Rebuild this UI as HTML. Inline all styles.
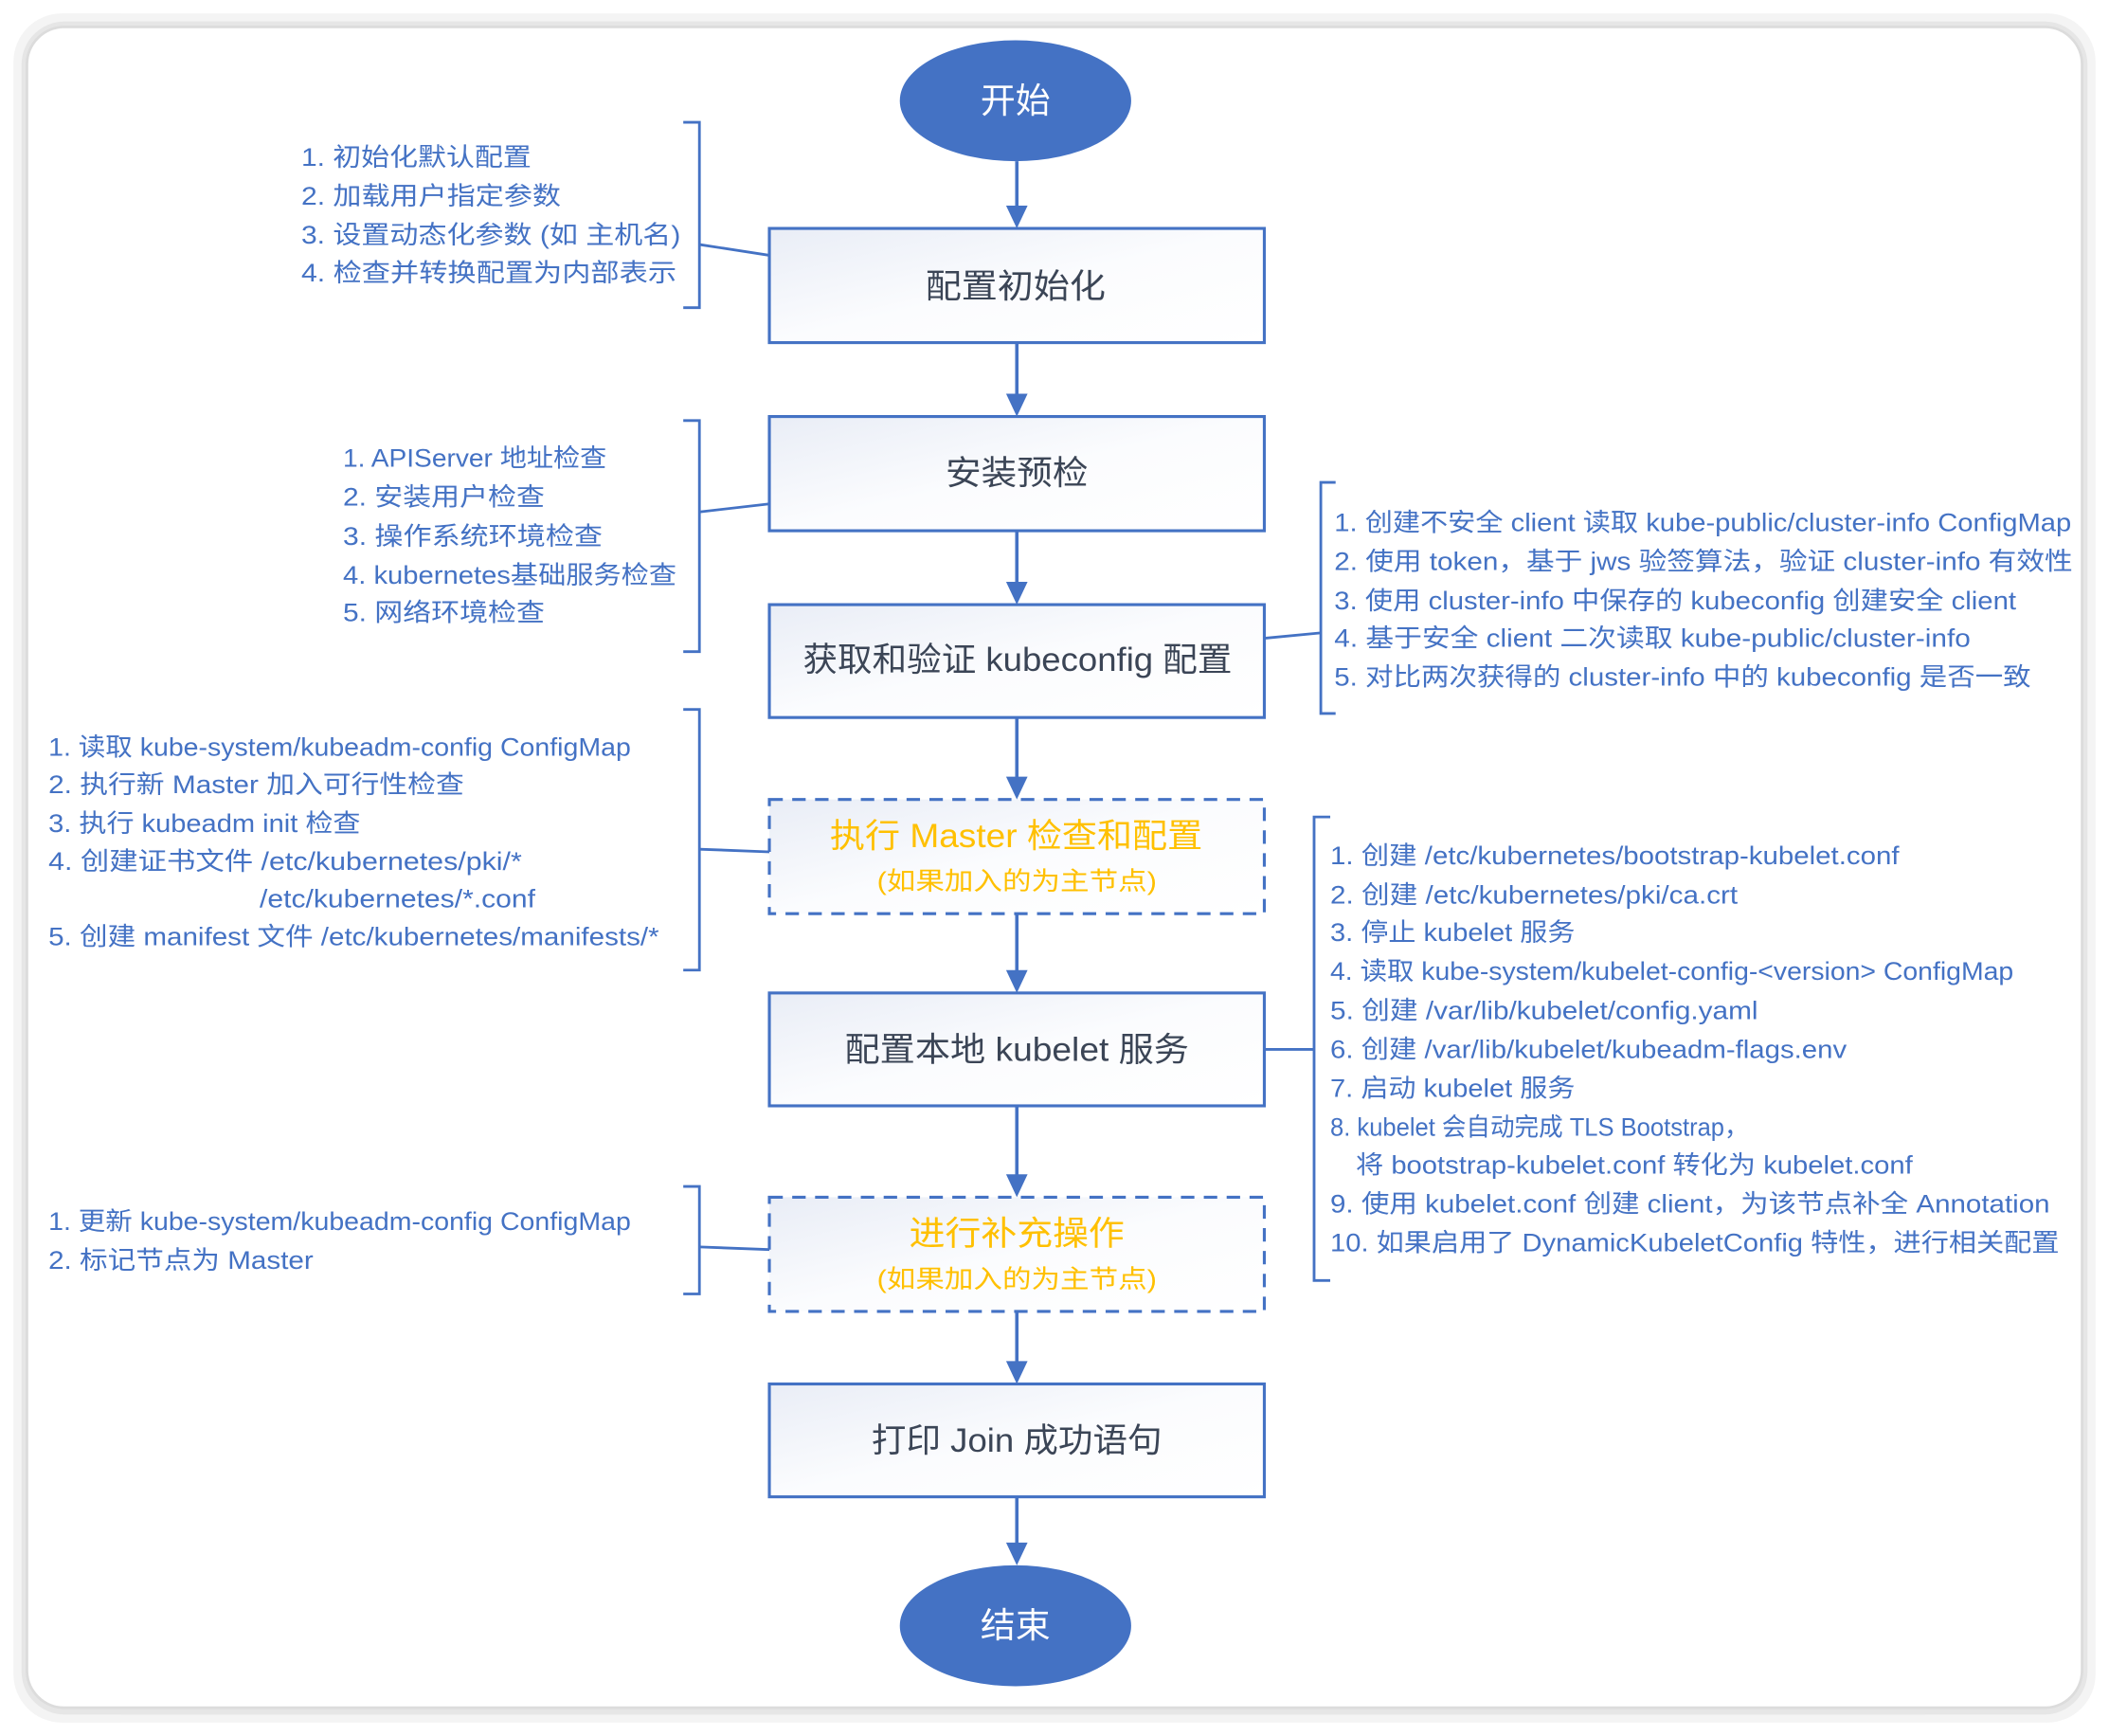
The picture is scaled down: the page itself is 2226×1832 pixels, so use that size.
<!DOCTYPE html>
<html><head><meta charset="utf-8"><style>
html,body{margin:0;padding:0;background:#fff;}
svg{display:block;}
text{font-family:"Liberation Sans","Noto Sans CJK SC",sans-serif;}
.l{fill:#4472C4;font-size:19px;dominant-baseline:central;}
.t{fill:#3b4556;font-size:25px;dominant-baseline:central;}
.o{fill:#FFC000;font-size:25px;dominant-baseline:central;}
.os{fill:#FFC000;font-size:19px;dominant-baseline:central;}
</style></head><body>
<svg width="2226" height="1832" viewBox="0 0 1568 1292" preserveAspectRatio="none" xmlns="http://www.w3.org/2000/svg">
<defs>
<linearGradient id="g" x1="0" y1="0" x2="1" y2="1">
<stop offset="0" stop-color="#e9edf6"/><stop offset="0.5" stop-color="#fbfcfe"/><stop offset="1" stop-color="#ffffff"/>
</linearGradient>
<marker id="a" markerWidth="10" markerHeight="10" refX="5" refY="9" orient="auto" markerUnits="userSpaceOnUse" viewBox="0 0 10 10">
<path d="M0,0 L10,0 L5,10 z" fill="#4472C4" transform="translate(0,0)"/>
</marker>
</defs>
<rect x="0" y="0" width="1568" height="1292" fill="#fff"/>
<rect x="10" y="10" width="1548" height="1272" rx="36" fill="#f4f4f4"/>
<rect x="16" y="16" width="1536" height="1260" rx="32" fill="#e6e6e6"/>
<rect x="20" y="20" width="1528" height="1251" rx="28" fill="#fff" stroke="#dcdcdc" stroke-width="2"/>

<g stroke="#4472C4" stroke-width="2.5" fill="none">
<line x1="756" y1="120" x2="756" y2="156"/>
<line x1="756" y1="255" x2="756" y2="296"/>
<line x1="756" y1="395" x2="756" y2="436"/>
<line x1="756" y1="534" x2="756" y2="581"/>
<line x1="756" y1="680" x2="756" y2="725"/>
<line x1="756" y1="823" x2="756" y2="877"/>
<line x1="756" y1="976" x2="756" y2="1016"/>
<line x1="756" y1="1114" x2="756" y2="1151"/>
</g>
<g fill="#4472C4">
<path d="M748,153 L764,153 L756,170 z"/>
<path d="M748,293 L764,293 L756,310 z"/>
<path d="M748,433 L764,433 L756,450 z"/>
<path d="M748,578 L764,578 L756,595 z"/>
<path d="M748,722 L764,722 L756,739 z"/>
<path d="M748,874 L764,874 L756,891 z"/>
<path d="M748,1013 L764,1013 L756,1030 z"/>
<path d="M748,1148 L764,1148 L756,1165 z"/>
</g>

<ellipse cx="755" cy="75" rx="86" ry="45" fill="#4472C4"/>
<text x="755" y="75" text-anchor="middle" dominant-baseline="central" fill="#fff" font-size="26">开始</text>
<ellipse cx="755" cy="1210" rx="86" ry="45" fill="#4472C4"/>
<text x="755" y="1210" text-anchor="middle" dominant-baseline="central" fill="#fff" font-size="26">结束</text>

<g stroke="#4472C4" stroke-width="2.2" fill="url(#g)">
<rect x="572" y="170" width="368" height="85"/>
<rect x="572" y="310" width="368" height="85"/>
<rect x="572" y="450" width="368" height="84"/>
<rect x="572" y="595" width="368" height="85" stroke-dasharray="10,7"/>
<rect x="572" y="739" width="368" height="84"/>
<rect x="572" y="891" width="368" height="85" stroke-dasharray="10,7"/>
<rect x="572" y="1030" width="368" height="84"/>
</g>
<text class="t" x="688" y="213" textLength="134" lengthAdjust="spacingAndGlyphs">配置初始化</text>
<text class="t" x="703" y="352" textLength="106" lengthAdjust="spacingAndGlyphs">安装预检</text>
<text class="t" x="597" y="491" textLength="319" lengthAdjust="spacingAndGlyphs">获取和验证 kubeconfig 配置</text>
<text class="o" x="617" y="622" textLength="277" lengthAdjust="spacingAndGlyphs">执行 Master 检查和配置</text>
<text class="os" x="652" y="656" textLength="208" lengthAdjust="spacingAndGlyphs">(如果加入的为主节点)</text>
<text class="t" x="628" y="781" textLength="256" lengthAdjust="spacingAndGlyphs">配置本地 kubelet 服务</text>
<text class="o" x="676" y="918" textLength="160" lengthAdjust="spacingAndGlyphs">进行补充操作</text>
<text class="os" x="652" y="952" textLength="208" lengthAdjust="spacingAndGlyphs">(如果加入的为主节点)</text>
<text class="t" x="648" y="1072" textLength="216" lengthAdjust="spacingAndGlyphs">打印 Join 成功语句</text>

<g stroke="#4472C4" stroke-width="2" fill="none">
<path d="M508,91 L520,91 L520,229 L508,229"/>
<line x1="520" y1="182" x2="572" y2="190"/>
<path d="M508,313 L520,313 L520,485 L508,485"/>
<line x1="520" y1="381" x2="572" y2="375"/>
<path d="M993,359 L982,359 L982,531 L993,531"/>
<line x1="940" y1="475" x2="982" y2="471"/>
<path d="M508,528 L520,528 L520,722 L508,722"/>
<line x1="520" y1="632" x2="572" y2="634"/>
<path d="M989,608 L977,608 L977,953 L989,953"/>
<line x1="940" y1="781" x2="977" y2="781"/>
<path d="M508,883 L520,883 L520,963 L508,963"/>
<line x1="520" y1="928" x2="572" y2="930"/>
</g>

<g class="l">
<text class="l" x="224" y="117" textLength="171" lengthAdjust="spacingAndGlyphs">1. 初始化默认配置</text>
<text class="l" x="224" y="146" textLength="193" lengthAdjust="spacingAndGlyphs">2. 加载用户指定参数</text>
<text class="l" x="224" y="175" textLength="282" lengthAdjust="spacingAndGlyphs">3. 设置动态化参数 (如 主机名)</text>
<text class="l" x="224" y="203" textLength="279" lengthAdjust="spacingAndGlyphs">4. 检查并转换配置为内部表示</text>

<text class="l" x="255" y="341" textLength="196" lengthAdjust="spacingAndGlyphs">1. APIServer 地址检查</text>
<text class="l" x="255" y="370" textLength="150" lengthAdjust="spacingAndGlyphs">2. 安装用户检查</text>
<text class="l" x="255" y="399" textLength="193" lengthAdjust="spacingAndGlyphs">3. 操作系统环境检查</text>
<text class="l" x="255" y="428" textLength="248" lengthAdjust="spacingAndGlyphs">4. kubernetes基础服务检查</text>
<text class="l" x="255" y="456" textLength="150" lengthAdjust="spacingAndGlyphs">5. 网络环境检查</text>

<text class="l" x="992" y="389" textLength="548" lengthAdjust="spacingAndGlyphs">1. 创建不安全 client 读取 kube-public/cluster-info ConfigMap</text>
<text class="l" x="992" y="418" textLength="549" lengthAdjust="spacingAndGlyphs">2. 使用 token，基于 jws 验签算法，验证 cluster-info 有效性</text>
<text class="l" x="992" y="447" textLength="507" lengthAdjust="spacingAndGlyphs">3. 使用 cluster-info 中保存的 kubeconfig 创建安全 client</text>
<text class="l" x="992" y="475" textLength="473" lengthAdjust="spacingAndGlyphs">4. 基于安全 client 二次读取  kube-public/cluster-info</text>
<text class="l" x="992" y="504" textLength="518" lengthAdjust="spacingAndGlyphs">5. 对比两次获得的 cluster-info 中的 kubeconfig 是否一致</text>

<text class="l" x="36" y="556" textLength="433" lengthAdjust="spacingAndGlyphs">1. 读取 kube-system/kubeadm-config ConfigMap</text>
<text class="l" x="36" y="584" textLength="309" lengthAdjust="spacingAndGlyphs">2. 执行新 Master 加入可行性检查</text>
<text class="l" x="36" y="613" textLength="232" lengthAdjust="spacingAndGlyphs">3. 执行 kubeadm init 检查</text>
<text class="l" x="36" y="641" textLength="352" lengthAdjust="spacingAndGlyphs">4. 创建证书文件 /etc/kubernetes/pki/*</text>
<text class="l" x="193" y="669" textLength="205" lengthAdjust="spacingAndGlyphs">/etc/kubernetes/*.conf</text>
<text class="l" x="36" y="697" textLength="454" lengthAdjust="spacingAndGlyphs">5. 创建 manifest 文件 /etc/kubernetes/manifests/*</text>

<text class="l" x="989" y="637" textLength="423" lengthAdjust="spacingAndGlyphs">1. 创建 /etc/kubernetes/bootstrap-kubelet.conf</text>
<text class="l" x="989" y="666" textLength="303" lengthAdjust="spacingAndGlyphs">2. 创建 /etc/kubernetes/pki/ca.crt</text>
<text class="l" x="989" y="694" textLength="182" lengthAdjust="spacingAndGlyphs">3. 停止 kubelet 服务</text>
<text class="l" x="989" y="723" textLength="508" lengthAdjust="spacingAndGlyphs">4. 读取 kube-system/kubelet-config-&lt;version&gt; ConfigMap</text>
<text class="l" x="989" y="752" textLength="318" lengthAdjust="spacingAndGlyphs">5. 创建 /var/lib/kubelet/config.yaml</text>
<text class="l" x="989" y="781" textLength="384" lengthAdjust="spacingAndGlyphs">6. 创建 /var/lib/kubelet/kubeadm-flags.env</text>
<text class="l" x="989" y="810" textLength="182" lengthAdjust="spacingAndGlyphs">7. 启动 kubelet 服务</text>
<text class="l" x="989" y="839" textLength="311" lengthAdjust="spacingAndGlyphs">8. kubelet 会自动完成 TLS Bootstrap，</text>
<text class="l" x="1008" y="867" textLength="414" lengthAdjust="spacingAndGlyphs">将 bootstrap-kubelet.conf 转化为 kubelet.conf</text>
<text class="l" x="989" y="896" textLength="535" lengthAdjust="spacingAndGlyphs">9. 使用 kubelet.conf 创建 client，为该节点补全 Annotation</text>
<text class="l" x="989" y="925" textLength="542" lengthAdjust="spacingAndGlyphs">10. 如果启用了 DynamicKubeletConfig 特性，进行相关配置</text>

<text class="l" x="36" y="909" textLength="433" lengthAdjust="spacingAndGlyphs">1. 更新 kube-system/kubeadm-config ConfigMap</text>
<text class="l" x="36" y="938" textLength="197" lengthAdjust="spacingAndGlyphs">2. 标记节点为 Master</text>
</g>
</svg>
</body></html>
